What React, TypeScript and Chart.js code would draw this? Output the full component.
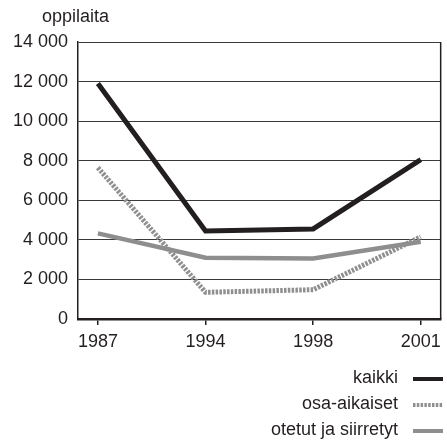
import React, { useEffect, useRef } from "react";
import { Chart, registerables } from "chart.js";

Chart.register(...registerables);

const years = ["1987", "1994", "1998", "2001"];
const kaikki = [11900, 4450, 4550, 8050];
const osaAikaiset = [7650, 1350, 1480, 4150];
const otetut = [4330, 3100, 3060, 3900];
const seriesNames = ["kaikki", "osa-aikaiset", "otetut ja siirretyt"];
const yTitle = "oppilaita";

const INK = "#231f20";
const GRID = "#3a3a3a";
const FONT = "'Liberation Sans', Arial, sans-serif";
const styles = [
  { color: INK, width: 5, dash: [] as number[] },
  { color: "#8f8f8f", width: 5, dash: [2.5, 1.3] },
  { color: "#8e8e8e", width: 4.5, dash: [] as number[] },
];

const fmt = (v: number) => String(v).replace(/\B(?=(\d{3})+(?!\d))/g, " ");

export default function App() {
  const ref = useRef<HTMLCanvasElement | null>(null);
  useEffect(() => {
    if (!ref.current) return;
    const decor = {
      id: "decor",
      afterDraw(chart: any) {
        const { ctx, chartArea } = chart;
        ctx.save();
        ctx.setLineDash([]);
        ctx.strokeStyle = INK;
        ctx.lineWidth = 1.5;
        ctx.beginPath();
        ctx.moveTo(chartArea.right, chartArea.top);
        ctx.lineTo(chartArea.right, chartArea.bottom);
        ctx.stroke();
        ctx.fillStyle = INK;
        ctx.font = `18px ${FONT}`;
        ctx.textAlign = "left";
        ctx.textBaseline = "middle";
        ctx.fillText(yTitle, 42, 17);
        const rows = [378, 404, 430];
        seriesNames.forEach((n, i) => {
          ctx.textAlign = "right";
          ctx.fillStyle = INK;
          ctx.fillText(n, 398, rows[i]);
          ctx.beginPath();
          ctx.setLineDash(styles[i].dash);
          ctx.lineWidth = 4;
          ctx.strokeStyle = styles[i].color;
          ctx.moveTo(413, rows[i] + 1);
          ctx.lineTo(443, rows[i] + 1);
          ctx.stroke();
          ctx.setLineDash([]);
        });
        ctx.restore();
      },
    };
    const data = [kaikki, osaAikaiset, otetut];
    const chart = new Chart(ref.current, {
      type: "line",
      data: {
        datasets: data.map((d, i) => ({
          label: seriesNames[i],
          data: d.map((v, j) => ({ x: j, y: v })),
          borderColor: styles[i].color,
          borderWidth: styles[i].width,
          borderDash: styles[i].dash,
          borderCapStyle: "butt",
          pointRadius: 0,
          tension: 0,
          fill: false,
        })),
      },
      options: {
        animation: false,
        responsive: true,
        maintainAspectRatio: false,
        layout: { padding: { left: 0, right: 4, top: 42, bottom: 83 } },
        plugins: { legend: { display: false }, tooltip: { enabled: false } },
        scales: {
          x: {
            type: "linear",
            min: -0.185,
            max: 3.185,
            afterBuildTicks: (s: any) => {
              s.ticks = years.map((_, i) => ({ value: i }));
            },
            afterFit: (s: any) => {
              s.height = 40;
            },
            grid: { drawOnChartArea: false, color: INK, lineWidth: 1.5, tickLength: 6 },
            border: { display: true, color: INK, width: 2.5 },
            ticks: {
              color: INK,
              font: { family: FONT, size: 18 },
              padding: 6,
              maxRotation: 0,
              autoSkip: false,
              callback: (v: any) => years[v] ?? "",
            },
          },
          y: {
            min: 0,
            max: 14000,
            afterFit: (s: any) => {
              s.width = 78;
            },
            grid: { color: GRID, lineWidth: 1, drawTicks: false },
            border: { display: true, color: INK, width: 1.5 },
            ticks: {
              stepSize: 2000,
              color: INK,
              font: { family: FONT, size: 18 },
              padding: 10,
              callback: (v: any) => fmt(Number(v)),
            },
          },
        },
      },
      plugins: [decor],
    } as any);
    return () => chart.destroy();
  }, []);
  return (
    <div style={{ position: "absolute", left: 0, top: 0, width: 447, height: 442 }}>
      <canvas ref={ref} />
    </div>
  );
}
